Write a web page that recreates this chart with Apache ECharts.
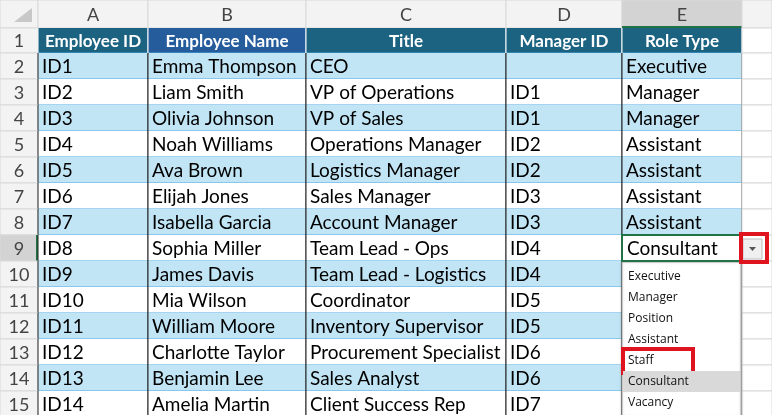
<!DOCTYPE html>
<html><head><meta charset="utf-8">
<script src="https://cdn.jsdelivr.net/npm/echarts@6/dist/echarts.min.js"></script>
<style>html,body{margin:0;padding:0;background:#fff}#c{width:772px;height:415px}</style>
</head><body><div id="c"></div>
<script>
var colLetters = ["A", "B", "C", "D", "E"];
var headers = ["Employee ID", "Employee Name", "Title", "Manager ID", "Role Type"];
var ids = ["ID1","ID2","ID3","ID4","ID5","ID6","ID7","ID8","ID9","ID10","ID11","ID12","ID13","ID14"];
var names = ["Emma Thompson","Liam Smith","Olivia Johnson","Noah Williams","Ava Brown","Elijah Jones","Isabella Garcia","Sophia Miller","James Davis","Mia Wilson","William Moore","Charlotte Taylor","Benjamin Lee","Amelia Martin"];
var titles = ["CEO","VP of Operations","VP of Sales","Operations Manager","Logistics Manager","Sales Manager","Account Manager","Team Lead - Ops","Team Lead - Logistics","Coordinator","Inventory Supervisor","Procurement Specialist","Sales Analyst","Client Success Rep"];
var managers = ["","ID1","ID1","ID2","ID2","ID3","ID3","ID4","ID4","ID5","ID5","ID6","ID6","ID7"];
var roles = ["Executive","Manager","Manager","Assistant","Assistant","Assistant","Assistant","Consultant","","","","","",""];
var roleOptions = ["Executive","Manager","Position","Assistant","Staff","Consultant","Vacancy"];

// layout (pixels)
var colEdges = [0, 38, 148, 306, 506, 622, 742, 772];
var rowTops = [0, 28, 53];
for (var i = 3; i <= 17; i++) rowTops.push(rowTops[i - 1] + 26);
var font = "Lato, 'Noto Sans', sans-serif";
var selRow = 9, selCol = 5;

var cells = [];
for (var r = 0; r <= 15; r++) for (var c = 0; c <= 6; c++) cells.push([c, r]);

function cellText(c, r) {
  if (r === 0) return c >= 1 && c <= 5 ? colLetters[c - 1] : "";
  if (c === 0) return String(r);
  if (c > 5) return "";
  if (r === 1) return headers[c - 1];
  var k = r - 2;
  return [ids, names, titles, managers, roles][c - 1][k];
}

function renderCell(params, api) {
  var c = api.value(0), r = api.value(1);
  var p0 = api.coord([colEdges[c], rowTops[r]]);
  var p1 = api.coord([colEdges[c + 1], rowTops[r + 1]]);
  var x = p0[0], y = p0[1], w = p1[0] - p0[0], h = p1[1] - p0[1];
  var kids = [];
  var fill = "#fff", color = "#000", weight = "normal", align = "left", size = 19, grid = "#d9d9d9";
  var inTable = c >= 1 && c <= 5 && r >= 1;
  if (r === 0 || c === 0) {
    fill = (r === 0 && c === selCol) || (c === 0 && r === selRow) ? "#d3d3d3" : "#f3f3f3";
    color = "#444"; align = "center"; size = 18;
  } else if (r === 1 && inTable) {
    fill = c === 2 ? "#255c9b" : "#1c6281"; color = "#fff"; weight = "bold"; align = "center"; size = 17;
  } else if (inTable) {
    fill = r % 2 === 0 ? "#c1e5f5" : "#fff";
  }
  kids.push({ type: "rect", shape: { x: x, y: y, width: w, height: h },
    style: { fill: fill, stroke: (r === 0 || c === 0 || !inTable) ? grid : null, lineWidth: 1 } });
  if (inTable) {
    kids.push({ type: "line", shape: { x1: x, y1: y + h, x2: x + w, y2: y + h }, style: { stroke: "#4ea9e0", lineWidth: 1 } });
    kids.push({ type: "line", shape: { x1: x + w, y1: y, x2: x + w, y2: y + h }, style: { stroke: r === 1 ? "#fff" : "#222", lineWidth: 1 } });
    kids.push({ type: "line", shape: { x1: x, y1: y, x2: x, y2: y + h }, style: { stroke: r === 1 ? "#fff" : "#222", lineWidth: 1 } });
  }
  if (r === 0 && c === 0) {
    kids.push({ type: "polygon", shape: { points: [[x + w - 6, y + 8], [x + w - 6, y + h - 6], [x + 14, y + h - 6]] }, style: { fill: "#c8c8c8" } });
  }
  if (r === 0 && c === selCol) kids.push({ type: "rect", shape: { x: x, y: y + h - 2, width: w, height: 2 }, style: { fill: "#217346" } });
  if (c === 0 && r === selRow) kids.push({ type: "rect", shape: { x: x + w - 2, y: y, width: 2, height: h }, style: { fill: "#217346" } });
  var t = cellText(c, r);
  if (t) {
    kids.push({ type: "text", style: { text: t, x: align === "center" ? x + w / 2 : x + 4, y: y + h / 2 + 1,
      align: align, verticalAlign: "middle", fill: color, font: weight + " " + size + "px " + font } });
  }
  return { type: "group", children: kids };
}

function renderDrop(params, api) {
  var i = api.value(0);
  var x0 = colEdges[5], x1 = colEdges[6] - 1;
  var top = rowTops[selRow + 1] + 1, ih = 21;
  var a = api.coord([x0, top + i * ih + 4]), b = api.coord([x1, top + (i + 1) * ih + 4]);
  var kids = [];
  if (i === 0) {
    var t0 = api.coord([x0, top]), t1 = api.coord([x1, top + roleOptions.length * ih + 8]);
    kids.push({ type: "rect", shape: { x: t0[0], y: t0[1], width: t1[0] - t0[0], height: t1[1] - t0[1] }, style: { fill: "#fff", stroke: "#a6a6a6", shadowBlur: 3, shadowColor: "rgba(0,0,0,0.2)" } });
    // selected cell border + dropdown button
    var s0 = api.coord([colEdges[5], rowTops[selRow]]), s1 = api.coord([colEdges[6], rowTops[selRow + 1]]);
    kids.push({ type: "rect", shape: { x: s0[0], y: s0[1], width: s1[0] - s0[0], height: s1[1] - s0[1] }, style: { fill: "#fff", stroke: "#217346", lineWidth: 2 } });
    kids.push({ type: "text", style: { text: roles[selRow - 2], x: s0[0] + 5, y: (s0[1] + s1[1]) / 2 + 1, verticalAlign: "middle", fill: "#000", font: "19px " + font } });
    kids.push({ type: "rect", shape: { x: s1[0] + 1, y: s0[1] + 4, width: 19, height: 20 }, style: { fill: "#f0f0f0", stroke: "#bbb" } });
    kids.push({ type: "polygon", shape: { points: [[s1[0] + 7, s0[1] + 12], [s1[0] + 14, s0[1] + 12], [s1[0] + 10.5, s0[1] + 16]] }, style: { fill: "#555" } });
    kids.push({ type: "rect", shape: { x: s1[0] - 1, y: s0[1] - 1, width: 26, height: 28 }, style: { fill: null, stroke: "#e0141e", lineWidth: 4 } });
  }
  if (roleOptions[i] === roles[selRow - 2]) {
    kids.push({ type: "rect", shape: { x: a[0] + 1, y: a[1], width: b[0] - a[0] - 2, height: b[1] - a[1] }, style: { fill: "#d9d9d9" } });
  }
  kids.push({ type: "text", style: { text: roleOptions[i], x: a[0] + 6, y: (a[1] + b[1]) / 2, verticalAlign: "middle", fill: "#111", font: "12px 'Open Sans', sans-serif" } });
  if (roleOptions[i] === "Staff") {
    kids.push({ type: "rect", shape: { x: a[0] + 1, y: a[1] - 1, width: 70, height: b[1] - a[1] + 3 }, style: { fill: null, stroke: "#e0141e", lineWidth: 4 } });
  }
  return { type: "group", children: kids };
}

var chart = echarts.init(document.getElementById("c"));
chart.setOption({
  animation: false,
  grid: { left: 0, right: 0, top: 0, bottom: 0 },
  xAxis: { type: "value", min: 0, max: 772, show: false },
  yAxis: { type: "value", min: 0, max: 415, inverse: true, show: false },
  series: [
    { type: "custom", renderItem: renderCell, data: cells, silent: true },
    { type: "custom", renderItem: renderDrop, data: roleOptions.map(function (o, i) { return [i]; }), silent: true, z: 5 }
  ]
});
</script></body></html>
